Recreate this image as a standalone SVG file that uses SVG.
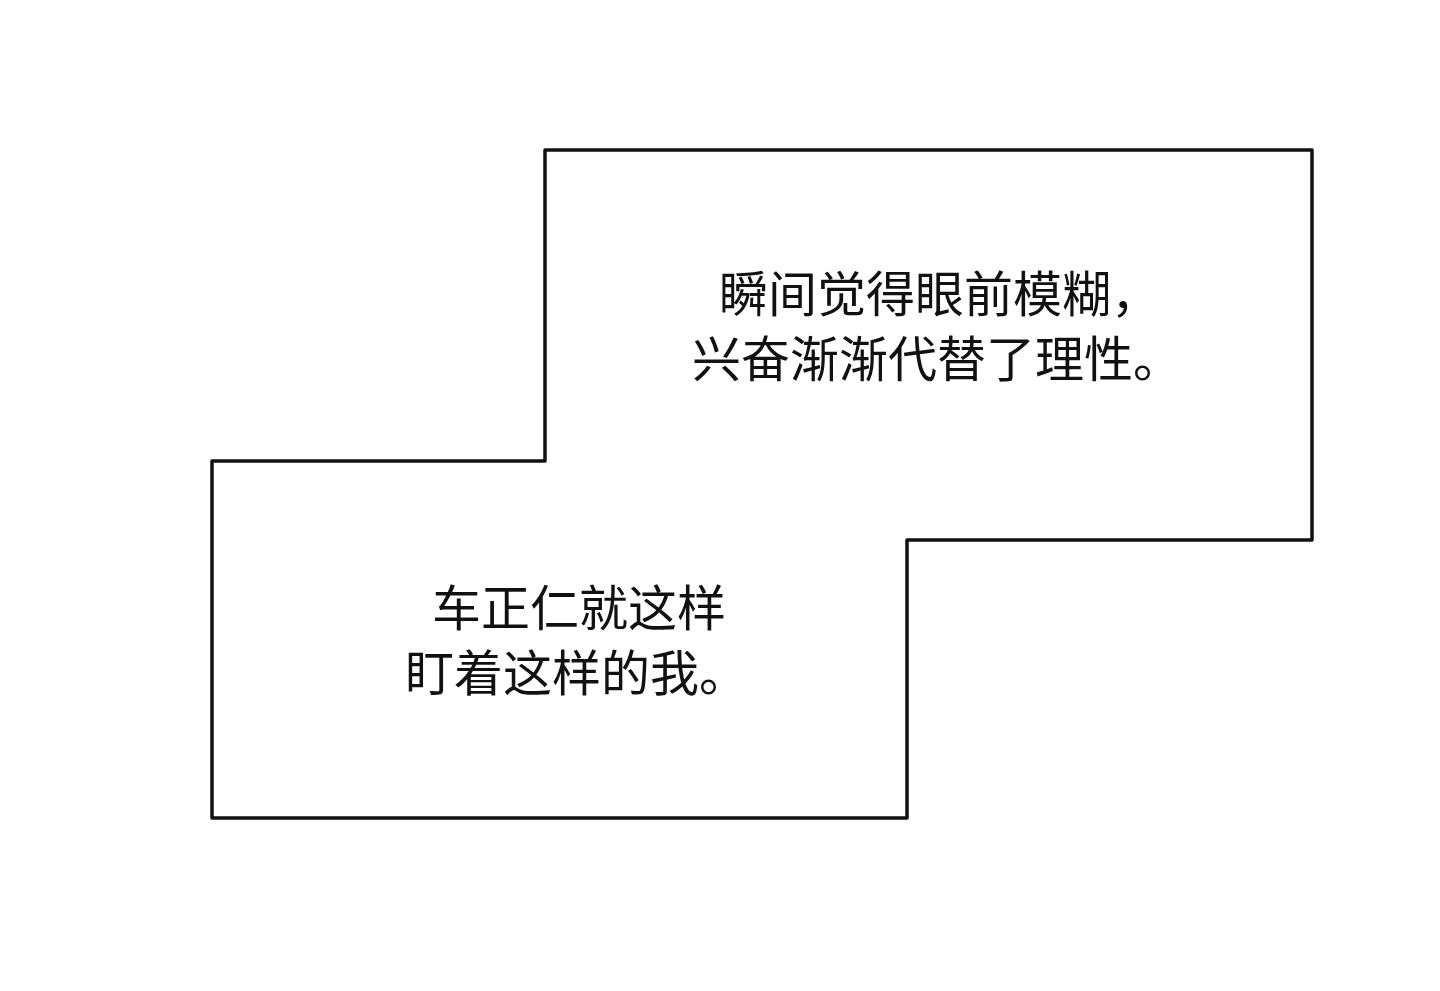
<svg xmlns="http://www.w3.org/2000/svg" width="1440" height="991" viewBox="0 0 1440 991">
<style>
.t{font-family:"Noto Sans CJK SC","Noto Sans",sans-serif;font-size:49px;fill:#111}
</style>
<rect width="1440" height="991" fill="#fff"/>
<g id="panel">
<polygon points="545,150 1312,150 1312,540 907,540 907,818 212,818 212,461 545,461" fill="#fff" stroke="#111" stroke-width="3.5" stroke-linejoin="round"/>
</g>
<g id="text1">
<text class="t" x="719" y="312">瞬间觉得眼前模糊，</text>
<text class="t" x="692" y="377">兴奋渐渐代替了理性。</text>
</g>
<g id="text2">
<text class="t" x="432" y="626">车正仁就这样</text>
<text class="t" x="405" y="691">盯着这样的我。</text>
</g>
<g id="connectors"/>
</svg>
